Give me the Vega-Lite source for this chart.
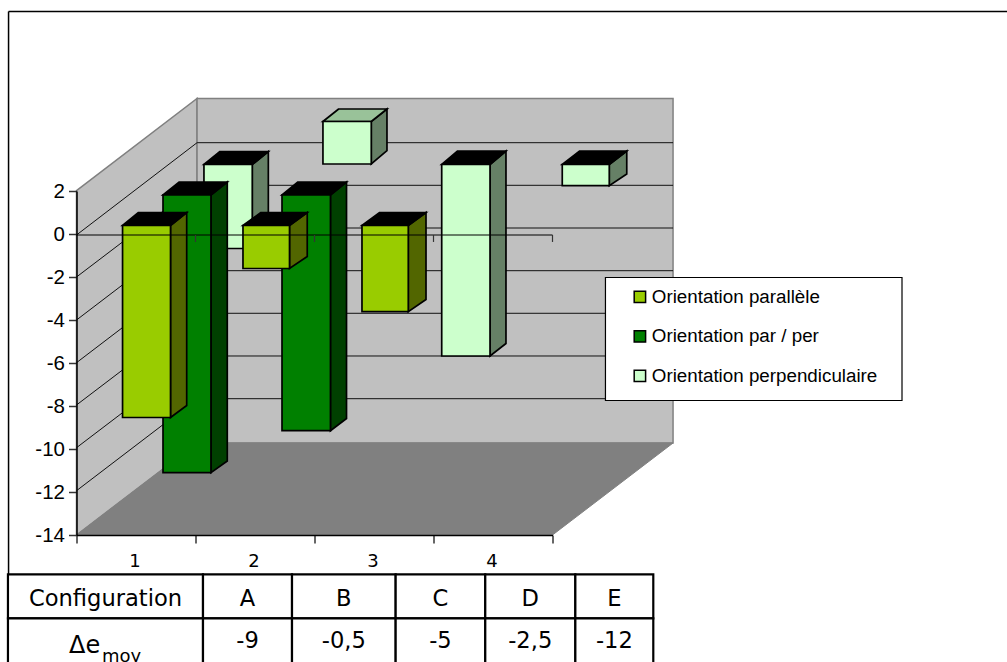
{"$schema":"https://vega.github.io/schema/vega-lite/v6.json","width":476,"height":344,"autosize":{"type":"none"},"padding":{"left":76.5,"top":191,"right":454.5,"bottom":127},"background":"white","config":{"view":{"stroke":null}},
"datasets":{
"sides":[
{"bar":"perp1","series":"Orientation perpendiculaire","x":1.477,"y":3.233,"y2":-0.674},{"bar":"perp1","series":"Orientation perpendiculaire","x":1.612,"y":3.837,"y2":-0.093},
{"bar":"perp2","series":"Orientation perpendiculaire","x":2.477,"y":5.233,"y2":3.256},{"bar":"perp2","series":"Orientation perpendiculaire","x":2.609,"y":5.814,"y2":3.874},
{"bar":"perp3","series":"Orientation perpendiculaire","x":3.475,"y":3.233,"y2":-5.674},{"bar":"perp3","series":"Orientation perpendiculaire","x":3.609,"y":3.86,"y2":-5.093},
{"bar":"perp4","series":"Orientation perpendiculaire","x":4.477,"y":3.233,"y2":2.247},{"bar":"perp4","series":"Orientation perpendiculaire","x":4.624,"y":3.86,"y2":2.791},
{"bar":"pp1","series":"Orientation par / per","x":1.13,"y":1.814,"y2":-11.102},{"bar":"pp1","series":"Orientation par / per","x":1.267,"y":2.419,"y2":-10.558},
{"bar":"pp2","series":"Orientation par / per","x":2.134,"y":1.814,"y2":-9.149},{"bar":"pp2","series":"Orientation par / per","x":2.269,"y":2.419,"y2":-8.581},
{"bar":"p1","series":"Orientation parallèle","x":0.79,"y":0.395,"y2":-8.535},{"bar":"p1","series":"Orientation parallèle","x":0.926,"y":1.0,"y2":-7.977},
{"bar":"p2","series":"Orientation parallèle","x":1.79,"y":0.395,"y2":-1.605},{"bar":"p2","series":"Orientation parallèle","x":1.939,"y":1.0,"y2":-1.047},
{"bar":"p3","series":"Orientation parallèle","x":2.788,"y":0.395,"y2":-3.614},{"bar":"p3","series":"Orientation parallèle","x":2.937,"y":1.0,"y2":-3.047}
],
"tops":[
{"bar":"perp1","series":"Orientation perpendiculaire","y":3.233,"x":1.071,"x2":1.477},{"bar":"perp1","series":"Orientation perpendiculaire","y":3.837,"x":1.206,"x2":1.612},
{"bar":"perp2","series":"Orientation perpendiculaire","y":5.233,"x":2.071,"x2":2.477},{"bar":"perp2","series":"Orientation perpendiculaire","y":5.814,"x":2.203,"x2":2.609},
{"bar":"perp3","series":"Orientation perpendiculaire","y":3.233,"x":3.069,"x2":3.475},{"bar":"perp3","series":"Orientation perpendiculaire","y":3.86,"x":3.203,"x2":3.609},
{"bar":"perp4","series":"Orientation perpendiculaire","y":3.233,"x":4.082,"x2":4.477},{"bar":"perp4","series":"Orientation perpendiculaire","y":3.86,"x":4.229,"x2":4.624},
{"bar":"pp1","series":"Orientation par / per","y":1.814,"x":0.727,"x2":1.13},{"bar":"pp1","series":"Orientation par / per","y":2.419,"x":0.864,"x2":1.267},
{"bar":"pp2","series":"Orientation par / per","y":1.814,"x":1.727,"x2":2.134},{"bar":"pp2","series":"Orientation par / per","y":2.419,"x":1.861,"x2":2.269},
{"bar":"p1","series":"Orientation parallèle","y":0.395,"x":0.387,"x2":0.79},{"bar":"p1","series":"Orientation parallèle","y":1.0,"x":0.521,"x2":0.926},
{"bar":"p2","series":"Orientation parallèle","y":0.395,"x":1.399,"x2":1.79},{"bar":"p2","series":"Orientation parallèle","y":1.0,"x":1.55,"x2":1.939},
{"bar":"p3","series":"Orientation parallèle","y":0.395,"x":2.399,"x2":2.788},{"bar":"p3","series":"Orientation parallèle","y":1.0,"x":2.548,"x2":2.937}
],
"fronts":[
{"bar":"perp1","series":"Orientation perpendiculaire","x":1.071,"x2":1.477,"y":3.233,"y2":-0.674},
{"bar":"perp2","series":"Orientation perpendiculaire","x":2.071,"x2":2.477,"y":5.233,"y2":3.256},
{"bar":"perp3","series":"Orientation perpendiculaire","x":3.069,"x2":3.475,"y":3.233,"y2":-5.674},
{"bar":"perp4","series":"Orientation perpendiculaire","x":4.082,"x2":4.477,"y":3.233,"y2":2.247},
{"bar":"pp1","series":"Orientation par / per","x":0.727,"x2":1.13,"y":1.814,"y2":-11.102},
{"bar":"pp2","series":"Orientation par / per","x":1.727,"x2":2.134,"y":1.814,"y2":-9.149},
{"bar":"p1","series":"Orientation parallèle","x":0.387,"x2":0.79,"y":0.395,"y2":-8.535},
{"bar":"p2","series":"Orientation parallèle","x":1.399,"x2":1.79,"y":0.395,"y2":-1.605},
{"bar":"p3","series":"Orientation parallèle","x":2.399,"x2":2.788,"y":0.395,"y2":-3.614}
],
"grid":[
{"g":0,"x":0,"y":-0.047},{"g":0,"x":1.013,"y":4.247},{"g":0,"x":5.013,"y":4.247},
{"g":-2,"x":0,"y":-2},{"g":-2,"x":1.013,"y":2.265},{"g":-2,"x":5.013,"y":2.265},
{"g":-4,"x":0,"y":-4},{"g":-4,"x":1.013,"y":0.279},{"g":-4,"x":5.013,"y":0.279},
{"g":-6,"x":0,"y":-5.986},{"g":-6,"x":1.013,"y":-1.707},{"g":-6,"x":5.013,"y":-1.707},
{"g":-8,"x":0,"y":-7.953},{"g":-8,"x":1.013,"y":-3.688},{"g":-8,"x":5.013,"y":-3.688},
{"g":-10,"x":0,"y":-9.94},{"g":-10,"x":1.013,"y":-5.674},{"g":-10,"x":5.013,"y":-5.674},
{"g":-12,"x":0,"y":-11.94},{"g":-12,"x":1.013,"y":-7.66},{"g":-12,"x":5.013,"y":-7.66}
],
"cells":[
{"x":-0.576,"x2":1.063,"y":-15.828,"y2":-17.874},{"x":1.063,"x2":1.811,"y":-15.828,"y2":-17.874},{"x":1.811,"x2":2.682,"y":-15.828,"y2":-17.874},{"x":2.682,"x2":3.435,"y":-15.828,"y2":-17.874},{"x":3.435,"x2":4.192,"y":-15.828,"y2":-17.874},{"x":4.192,"x2":4.847,"y":-15.828,"y2":-17.874},
{"x":-0.576,"x2":1.063,"y":-17.874,"y2":-20},{"x":1.063,"x2":1.811,"y":-17.874,"y2":-20},{"x":1.811,"x2":2.682,"y":-17.874,"y2":-20},{"x":2.682,"x2":3.435,"y":-17.874,"y2":-20},{"x":3.435,"x2":4.192,"y":-17.874,"y2":-20},{"x":4.192,"x2":4.847,"y":-17.874,"y2":-20}
],
"labels":[
{"t":"Configuration","x":0.244,"y":-17.302},{"t":"A","x":1.437,"y":-17.302},{"t":"B","x":2.246,"y":-17.302},{"t":"C","x":3.058,"y":-17.302},{"t":"D","x":3.813,"y":-17.302},{"t":"E","x":4.52,"y":-17.302},
{"t":"-9","x":1.437,"y":-19.27},{"t":"-0,5","x":2.246,"y":-19.27},{"t":"-5","x":3.058,"y":-19.27},{"t":"-2,5","x":3.813,"y":-19.27},{"t":"-12","x":4.52,"y":-19.27}
]
},
"encoding":{
"x":{"field":"x","type":"quantitative","scale":{"domain":[0,4],"nice":false,"zero":false},"title":null,"axis":{"values":[0,1,2,3,4],"grid":false,"zindex":1,"tickSize":8,"tickColor":"#333333","tickWidth":1.5,"domainColor":"black","domainWidth":1.5,"labelExpr":"datum.value<4?''+(datum.value+1):''","labelOffset":58,"labelFont":"DejaVu Sans","labelFontSize":18,"labelColor":"black","labelPadding":9,"labelFlush":false,"labelOverlap":false}},
"y":{"field":"y","type":"quantitative","scale":{"domain":[-14,2],"nice":false,"zero":false},"title":null,"axis":{"values":[-14,-12,-10,-8,-6,-4,-2,0,2],"grid":false,"zindex":1,"tickSize":8,"tickColor":"#333333","tickWidth":1.5,"domainColor":"black","domainWidth":1.5,"labelExpr":"''+datum.value","labelFont":"Liberation Sans","labelFontSize":20.5,"labelColor":"black","labelPadding":4}}
},
"layer":[
{"data":{"values":[{"x":-0.571,"x2":8,"y":10.349}]},"mark":{"type":"rule","color":"black","strokeWidth":1.5},"encoding":{"x2":{"field":"x2"}}},
{"data":{"values":[{"x":-0.571,"y":10.349,"y2":-15.814}]},"mark":{"type":"rule","color":"black","strokeWidth":1.5},"encoding":{"y2":{"field":"y2"}}},
{"data":{"values":[{"x":0,"y":2.02,"y2":-14},{"x":1.013,"y":6.302,"y2":-9.721}]},"mark":{"type":"area","orient":"vertical","fill":"#c0c0c0","stroke":"#808080","strokeWidth":1.5},"encoding":{"y2":{"field":"y2"}}},
{"data":{"values":[{"x":1.013,"x2":5.013,"y":6.302,"y2":-9.721}]},"mark":{"type":"rect","fill":"#c0c0c0","stroke":"#808080","strokeWidth":1.5},"encoding":{"x2":{"field":"x2"},"y2":{"field":"y2"}}},
{"data":{"values":[{"y":-14,"x":0,"x2":4},{"y":-9.721,"x":1.013,"x2":5.013}]},"mark":{"type":"area","orient":"horizontal","fill":"#808080","stroke":"#808080","strokeWidth":1},"encoding":{"x2":{"field":"x2"}}},
{"data":{"name":"grid"},"mark":{"type":"line","color":"#111111","strokeWidth":1},"encoding":{"detail":{"field":"g"},"order":{"field":"x"}}},

{"data":{"name":"sides"},"transform":[{"filter":{"field":"series","equal":"Orientation perpendiculaire"}}],"mark":{"type":"area","orient":"vertical","fill":"#668066","stroke":"black","strokeWidth":1.7},"encoding":{"y2":{"field":"y2"},"detail":{"field":"bar"}}},
{"data":{"name":"tops"},"transform":[{"filter":{"field":"bar","oneOf":["perp1","perp3","perp4"]}}],"mark":{"type":"area","orient":"horizontal","fill":"black","stroke":"black","strokeWidth":1.7},"encoding":{"x2":{"field":"x2"},"detail":{"field":"bar"}}},
{"data":{"name":"tops"},"transform":[{"filter":{"field":"bar","equal":"perp2"}}],"mark":{"type":"area","orient":"horizontal","fill":"#99C299","stroke":"black","strokeWidth":1.7},"encoding":{"x2":{"field":"x2"},"detail":{"field":"bar"}}},
{"data":{"name":"fronts"},"transform":[{"filter":{"field":"series","equal":"Orientation perpendiculaire"}}],"mark":{"type":"rect","stroke":"black","strokeWidth":1.7},"encoding":{"x2":{"field":"x2"},"y2":{"field":"y2"},"color":{"field":"series","type":"nominal","scale":{"domain":["Orientation parallèle","Orientation par / per","Orientation perpendiculaire"],"range":["#99CC00","#008000","#CCFFCC"]},"legend":{"title":null,"orient":"none","legendX":554,"legendY":96.5,"symbolType":"square","symbolSize":130,"symbolStrokeColor":"black","symbolStrokeWidth":1.5,"labelFont":"Liberation Sans","labelFontSize":18.8,"labelColor":"black","labelOffset":2.5,"labelLimit":400,"rowPadding":19.5,"padding":0}}}},

{"data":{"name":"sides"},"transform":[{"filter":{"field":"series","equal":"Orientation par / per"}}],"mark":{"type":"area","orient":"vertical","fill":"#004000","stroke":"black","strokeWidth":1.7},"encoding":{"y2":{"field":"y2"},"detail":{"field":"bar"}}},
{"data":{"name":"tops"},"transform":[{"filter":{"field":"series","equal":"Orientation par / per"}}],"mark":{"type":"area","orient":"horizontal","fill":"black","stroke":"black","strokeWidth":1.7},"encoding":{"x2":{"field":"x2"},"detail":{"field":"bar"}}},
{"data":{"name":"fronts"},"transform":[{"filter":{"field":"series","equal":"Orientation par / per"}}],"mark":{"type":"rect","stroke":"black","strokeWidth":1.7},"encoding":{"x2":{"field":"x2"},"y2":{"field":"y2"},"color":{"field":"series","type":"nominal"}}},

{"data":{"name":"sides"},"transform":[{"filter":{"field":"series","equal":"Orientation parallèle"}}],"mark":{"type":"area","orient":"vertical","fill":"#526600","stroke":"black","strokeWidth":1.7},"encoding":{"y2":{"field":"y2"},"detail":{"field":"bar"}}},
{"data":{"name":"tops"},"transform":[{"filter":{"field":"series","equal":"Orientation parallèle"}}],"mark":{"type":"area","orient":"horizontal","fill":"black","stroke":"black","strokeWidth":1.7},"encoding":{"x2":{"field":"x2"},"detail":{"field":"bar"}}},
{"data":{"name":"fronts"},"transform":[{"filter":{"field":"series","equal":"Orientation parallèle"}}],"mark":{"type":"rect","stroke":"black","strokeWidth":1.7},"encoding":{"x2":{"field":"x2"},"y2":{"field":"y2"},"color":{"field":"series","type":"nominal"}}},

{"data":{"values":[{"x":0,"x2":4,"y":-0.047}]},"mark":{"type":"rule","color":"black","strokeWidth":1.2},"encoding":{"x2":{"field":"x2"}}},
{"data":{"values":[{"x":1,"y":-0.047,"y2":-0.37},{"x":2,"y":-0.047,"y2":-0.37},{"x":3,"y":-0.047,"y2":-0.37},{"x":4,"y":-0.047,"y2":-0.37}]},"mark":{"type":"rule","color":"#333333","strokeWidth":1.2},"encoding":{"y2":{"field":"y2"}}},

{"data":{"values":[{"x":4.445,"x2":6.937,"y":-2.023,"y2":-7.744}]},"mark":{"type":"rect","fill":"white","stroke":"black","strokeWidth":1.2},"encoding":{"x2":{"field":"x2"},"y2":{"field":"y2"}}},

{"data":{"name":"cells"},"mark":{"type":"rect","fill":"white","stroke":"black","strokeWidth":2.2},"encoding":{"x2":{"field":"x2"},"y2":{"field":"y2"}}},
{"data":{"name":"labels"},"mark":{"type":"text","font":"DejaVu Sans","fontSize":22.6,"align":"center","baseline":"alphabetic","color":"black"},"encoding":{"text":{"field":"t"}}},
{"data":{"values":[{"t":"Δe","x":-0.063,"y":-19.488}]},"mark":{"type":"text","font":"DejaVu Sans","fontSize":24,"align":"left","baseline":"alphabetic","color":"black"},"encoding":{"text":{"field":"t"}}},
{"data":{"values":[{"t":"moy","x":0.214,"y":-19.93}]},"mark":{"type":"text","font":"DejaVu Sans","fontSize":18,"align":"left","baseline":"alphabetic","color":"black"},"encoding":{"text":{"field":"t"}}}
]}
